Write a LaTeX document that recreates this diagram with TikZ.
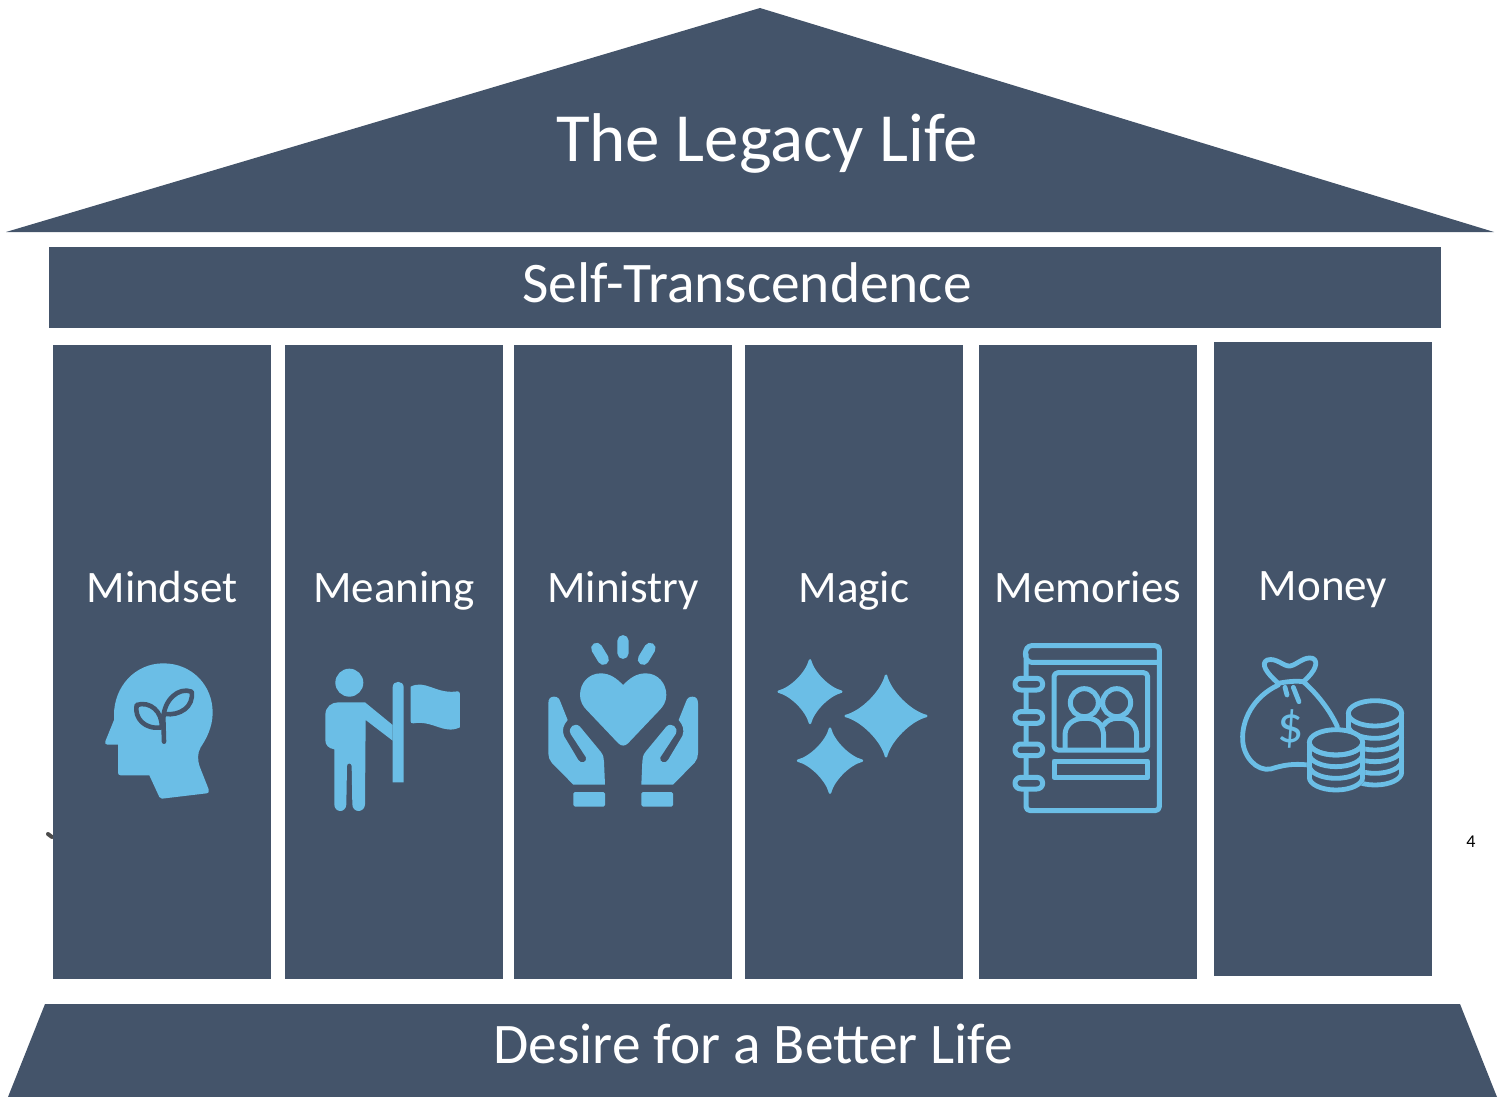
\documentclass[tikz,border=0pt]{standalone}
\usepackage{fontspec}
\setmainfont{Carlito}
\definecolor{slate}{HTML}{44546A}
\definecolor{sky}{HTML}{6BBEE6}
\tikzset{
 block/.style={fill=slate,draw=none},
 pillartext/.style={text=white,font=\fontsize{22.5}{24}\selectfont,inner sep=0pt,anchor=base},
 bigtext/.style={text=white,font=\fontsize{28.7}{30}\selectfont,inner sep=0pt,anchor=base},
 solidicon/.style={fill=sky,draw=none},
 outline/.style={draw=sky,line width=2.5pt,line join=round,line cap=round},
 outlinefill/.style={outline,fill=slate},
 icon/.style={shift={#1},scale=1/3}
}
\newcommand{\sparkle}[3]{%
 \fill[sky,draw=sky,line width=1.2pt,line join=round] (#1,#2-#3)
  .. controls (#1+.1*#3,#2-.6*#3) and (#1+.6*#3,#2-.1*#3) .. (#1+#3,#2)
  .. controls (#1+.6*#3,#2+.1*#3) and (#1+.1*#3,#2+.6*#3) .. (#1,#2+#3)
  .. controls (#1-.1*#3,#2+.6*#3) and (#1-.6*#3,#2+.1*#3) .. (#1-#3,#2)
  .. controls (#1-.6*#3,#2-.1*#3) and (#1-.1*#3,#2-.6*#3) .. cycle;}
\newcommand{\givinghand}{%
 \fill[sky] (55,250) .. controls (55,235) and (62,230) .. (72,230)
  .. controls (82,230) and (88,235) .. (91,245) -- (113,300)
  .. controls (100,315) and (95,330) .. (102,348) -- (145,420)
  .. controls (152,432) and (172,428) .. (168,412) -- (122,342)
  .. controls (112,322) and (135,305) .. (150,320) -- (212,395)
  .. controls (220,405) and (222,415) .. (222,425) -- (225,494) -- (130,494) -- (65,428)
  .. controls (58,420) and (55,410) .. (55,400) -- cycle;
 \fill[sky,rounded corners=.8pt] (130,516) -- (225,516) -- (225,560) -- (130,560) -- cycle;}
\begin{document}
\begin{tikzpicture}[x=.5pt,y=-.5pt]
\useasboundingbox (0,0) rectangle (1505,1097);
% stray mark and page number
\draw[gray!60!black,line width=2pt,line cap=round] (48,834) -- (52,837);
\node[text=black,font=\fontsize{9}{10}\selectfont,inner sep=0pt] (pagenum) at (1471,842) {4};
% house
\fill[block] (760,8) -- (1494,232) -- (6,232) -- cycle;
\fill[block] (49,247) rectangle (1441,328);
\fill[block] (53,345) rectangle (271,979);
\fill[block] (285,345) rectangle (503,979);
\fill[block] (514,345) rectangle (732,979);
\fill[block] (745,345) rectangle (963,979);
\fill[block] (979,345) rectangle (1197,979);
\fill[block] (1214,342) rectangle (1432,976);
\fill[block] (45,1004) -- (1460,1004) -- (1497,1097) -- (8,1097) -- cycle;
% texts
\node[text=white,font=\fontsize{34.5}{36}\selectfont,inner sep=0pt,anchor=base] (roof) at (767,162) {The Legacy Life};
\node[bigtext] (beam) at (747,302) {Self-Transcendence};
\node[bigtext] (base) at (753,1063) {Desire for a Better Life};
\node[pillartext] (p1) at (162,602) {Mindset};
\node[pillartext] (p2) at (394,602) {Meaning};
\node[pillartext] (p3) at (623,602) {Ministry};
\node[pillartext] (p4) at (854,602) {Magic};
\node[pillartext] (p5) at (1088,602) {Memories};
\node[pillartext] (p6) at (1323,600) {Money};
% head with sprout
\begin{scope}[icon={(90,640)}]
\fill[sky] (72,225) .. controls (72,140) and (135,70) .. (220,70)
 .. controls (305,70) and (368,135) .. (368,218)
 .. controls (368,260) and (350,295) .. (332,322)
 .. controls (322,340) and (322,360) .. (330,382) -- (356,448)
 .. controls (358,456) and (355,460) .. (350,460) -- (216,476)
 .. controls (212,476) and (210,474) .. (208,471) -- (178,406) -- (92,406)
 .. controls (86,406) and (84,402) .. (84,398) -- (84,314) -- (52,314)
 .. controls (46,314) and (44,309) .. (46,304) -- (72,240) -- cycle;
\draw[slate,line width=2.3pt,line cap=round,line join=round]
 (222,305) -- (220,235)
 .. controls (222,180) and (265,140) .. (305,155)
 .. controls (312,200) and (270,228) .. (225,222)
 (215,262) .. controls (165,270) and (132,235) .. (140,195)
 .. controls (180,182) and (218,215) .. (215,262);
\end{scope}
% person with flag
\begin{scope}[icon={(90,640)}]
\fill[sky] (778,128) circle [radius=42];
\fill[sky] (745,187) -- (825,187) -- (908,255) -- (908,302) -- (827,240) -- (825,493)
 .. controls (825,505) and (815,513) .. (806,513) .. controls (796,513) and (787,505) .. (787,493)
 -- (785,378) .. controls (785,368) and (771,368) .. (771,378) -- (769,493)
 .. controls (769,505) and (760,513) .. (751,513) .. controls (741,513) and (733,505) .. (733,493)
 -- (733,328) .. controls (715,325) and (706,315) .. (706,300) -- (706,225)
 .. controls (706,200) and (725,187) .. (745,187) -- cycle;
\fill[sky] (908,427) -- (908,142) .. controls (908,120) and (941,120) .. (941,142) -- (941,427) -- cycle;
\fill[sky] (962,140) .. controls (1005,118) and (1035,160) .. (1095,155)
 .. controls (1105,152) and (1110,155) .. (1110,165) -- (1110,262)
 .. controls (1060,285) and (1030,240) .. (970,250) .. controls (964,250) and (962,248) .. (962,244) -- cycle;
\end{scope}
% hands with heart
\begin{scope}[icon={(530,620)}]
\draw[sky,line width=5.6pt,line cap=round] (200,85) -- (220,118) (279,62) -- (279,100) (360,85) -- (340,118);
\fill[sky] (279,195) .. controls (260,175) and (240,160) .. (212,160)
 .. controls (175,160) and (150,190) .. (150,225)
 .. controls (150,245) and (160,260) .. (170,270) -- (265,370)
 .. controls (274,379) and (285,379) .. (294,370) -- (389,270)
 .. controls (399,260) and (409,245) .. (409,225)
 .. controls (409,190) and (384,160) .. (347,160)
 .. controls (319,160) and (299,175) .. (279,195) -- cycle;
\givinghand
\begin{scope}[shift={(559,0)},xscale=-1]
\givinghand
\end{scope}
\end{scope}
% sparkles
\begin{scope}[icon={(530,620)}]
\sparkle{840}{215}{94}
\sparkle{1068}{288}{121}
\sparkle{900}{422}{96}
\end{scope}
% notebook
\begin{scope}[icon={(1000,630)}]
\draw[outline] (78,530) .. controls (78,538) and (85,542) .. (92,542) -- (465,542)
 .. controls (473,542) and (478,537) .. (478,530) -- (478,60)
 .. controls (478,52) and (473,47) .. (465,47) -- (95,47)
 .. controls (70,47) and (70,97) .. (95,97) -- (478,97)
 (78,72) -- (78,530);
\foreach \ya/\yb in {145/180,245/280,342/377,442/477}
 \draw[outlinefill,rounded corners=2.9pt] (45,\ya) rectangle (128,\yb);
\draw[outline,rounded corners=2pt] (162,128) rectangle (443,360);
\draw[outline] (253,218) circle [radius=42] (350,218) circle [radius=42];
\draw[outline] (195,355) -- (195,315) .. controls (195,285) and (220,265) .. (250,265) -- (262,265)
 .. controls (295,265) and (311,290) .. (311,320) -- (311,355)
 (311,285) .. controls (320,272) and (335,265) .. (350,265) -- (362,265)
 .. controls (392,265) and (410,290) .. (410,315) -- (410,355);
\draw[outline] (162,393) rectangle (443,443);
\end{scope}
% money bag and coins
\begin{scope}[icon={(1000,630)}]
\begin{scope}[every path/.append style={outline,line width=2.4pt}]
\draw (835,160) .. controls (800,130) and (780,100) .. (802,90)
 .. controls (830,82) and (850,110) .. (870,108)
 .. controls (890,105) and (912,78) .. (938,85)
 .. controls (958,95) and (945,125) .. (910,155)
 .. controls (885,152) and (860,155) .. (835,160) -- cycle;
\draw (855,172) -- (861,195) (880,172) -- (897,215);
\draw (835,165) .. controls (760,200) and (725,270) .. (728,330)
 .. controls (730,380) and (770,425) .. (812,417)
 .. controls (850,405) and (880,400) .. (925,405);
\draw (910,155) .. controls (950,190) and (990,240) .. (1012,290);
% back stack
\draw (1125,250) ellipse [x radius=80,y radius=38];
\draw (1045,250) -- (1045,300) (1205,250) -- (1205,427);
\foreach \c in {287,322,357,392,427}
 \draw (1045,\c) arc [start angle=180,end angle=0,x radius=80,y radius=38];
% front stack
\fill[slate] (928,337) -- (928,442) arc [start angle=180,end angle=0,x radius=80,y radius=38] -- (1088,337) -- cycle;
\draw[fill=slate] (1008,337) ellipse [x radius=80,y radius=38];
\draw (928,337) -- (928,442) (1088,337) -- (1088,442);
\foreach \c in {337,372,407,442}
 \draw (928,\c) arc [start angle=180,end angle=0,x radius=80,y radius=38];
\end{scope}
\end{scope}
\node[text=sky,font=\fontsize{26}{28}\selectfont,inner sep=0pt] (dollar) at (1291,729) {\$};
\end{tikzpicture}
\end{document}
